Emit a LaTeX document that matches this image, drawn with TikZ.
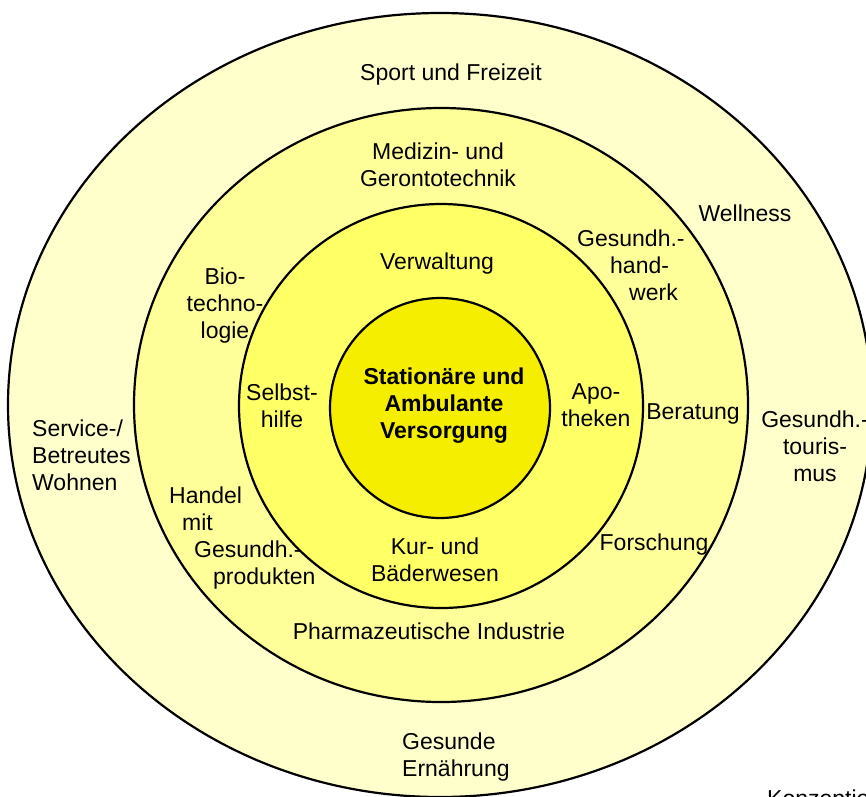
\documentclass[tikz,border=0pt]{standalone}
\usepackage{fontspec}
\setmainfont{Liberation Sans}
\definecolor{ringA}{HTML}{FFFFCC}
\definecolor{ringB}{HTML}{FFFF99}
\definecolor{ringC}{HTML}{FFFF66}
\definecolor{ringD}{HTML}{F5EE00}
\begin{document}
\begin{tikzpicture}[x=1pt,y=-1pt,
  ring/.style={draw=black,line width=2.2pt},
  lbl/.style={inner sep=0pt,align=center,font=\fontsize{23}{27}\selectfont},
  lbll/.style={inner sep=0pt,align=left,anchor=west,font=\fontsize{23}{27}\selectfont}]
\useasboundingbox (0,0) rectangle (866,796);
\clip (0,0) rectangle (866,796);
\fill[white] (0,0) rectangle (866,796);
% rings
\coordinate (c) at (440,405);
\draw[ring,fill=ringA] (c) ellipse [x radius=432pt, y radius=392pt];
\draw[ring,fill=ringB] (441,405) ellipse [x radius=307pt, y radius=297pt];
\draw[ring,fill=ringC] (441,406) circle [radius=202pt];
\draw[ring,fill=ringD] (440,408) circle [radius=110pt];
% outer ring
\node[lbl] (sport) at (451,75) {Sport und Freizeit};
\node[lbl] (well) at (745,213) {Wellness};
\node[lbl] (tour) at (815,446) {Gesundh.-\\touris-\\mus};
\node[lbll] (serv) at (32,455) {Service-/\\Betreutes\\Wohnen};
\node[lbll] (ern) at (402,757) {Gesunde\\Ernährung};
% second ring
\node[lbl] (med) at (438,165) {Medizin- und\\Gerontotechnik};
\node[lbll] (hand) at (577,265) {Gesundh.-\\\hspace*{33pt}hand-\\\hspace*{52pt}werk};
\node[lbl] (bio) at (225,306) {Bio-\\techno-\\logie};
\node[lbl] (ber) at (693,414) {Beratung};
\node[lbll] (handel) at (169,538) {Handel\\\hspace*{13pt}mit\\\hspace*{25pt}Gesundh.-\\\hspace*{44pt}produkten};
\node[lbl] (forsch) at (654,545) {Forschung};
\node[lbl] (pharma) at (429,631) {Pharmazeutische Industrie};
% third ring
\node[lbl] (verw) at (437,264) {Verwaltung};
\node[lbl] (selbst) at (282,406) {Selbst-\\hilfe};
\node[lbl] (apo) at (596,405) {Apo-\\theken};
\node[lbl] (kur) at (435,560) {Kur- und\\Bäderwesen};
% centre
\node[lbl,font=\fontsize{23}{27}\selectfont\bfseries] (stat) at (444,406) {Stationäre und\\Ambulante\\Versorgung};
% cut-off caption
\node[inner sep=0pt,anchor=base west,font=\fontsize{23}{27}\selectfont] (konz) at (767,806.5) {Konzeption};
\end{tikzpicture}
\end{document}
